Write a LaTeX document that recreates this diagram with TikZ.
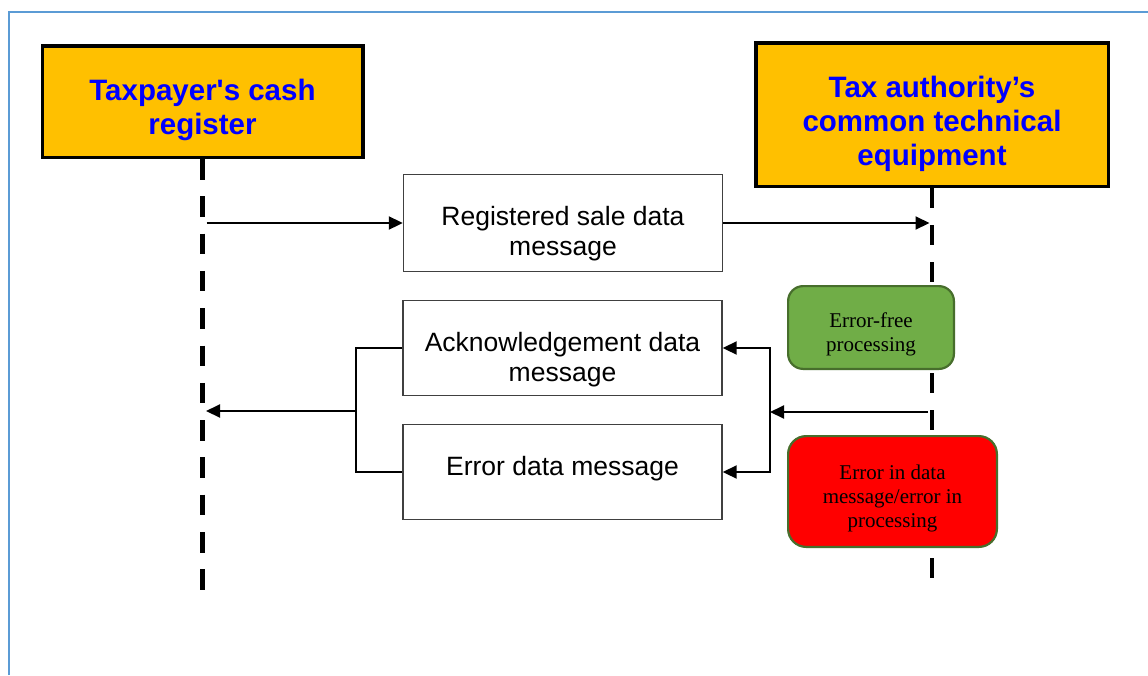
\documentclass[tikz,border=0pt]{standalone}
\usepackage{fontspec}
\setmainfont{Liberation Sans}
\newfontfamily\statefont{Liberation Serif}
\usetikzlibrary{arrows.meta}
\definecolor{orangebox}{HTML}{FFC000}
\definecolor{titleblue}{HTML}{0000FF}
\definecolor{framebl}{HTML}{5B9BD5}
\definecolor{okgreen}{HTML}{70AD47}
\definecolor{errred}{HTML}{FF0000}
\definecolor{darkgreen}{HTML}{476E2C}
\definecolor{boxgray}{HTML}{404040}
\begin{document}
\begin{tikzpicture}[x=1pt,y=-1pt,
  titlebox/.style={draw=black, line width=3.5pt, fill=orangebox, text=titleblue,
    font=\fontsize{29.5}{34}\selectfont\bfseries, inner sep=0pt},
  msgbox/.style={draw=boxgray, line width=1.4pt, fill=white, inner sep=0pt,
    font=\fontsize{26.5}{30}\selectfont},
  statebox/.style={draw=darkgreen, line width=2.2pt, rounded corners=15pt,
    font=\statefont\fontsize{21}{24}\selectfont, inner sep=0pt},
  lifeline/.style={line width=4.5pt},
  conn/.style={line width=2pt, -{Triangle[length=14pt,width=13pt]}},
  plainline/.style={line width=2pt},
  tip/.tip={Triangle[length=14pt,width=13pt]}]
\useasboundingbox (0,0) rectangle (1148,675);
\fill[white] (0,0) rectangle (1148,675);
% frame
\draw[framebl, line width=2pt] (9,675) -- (9,12) -- (1148,12);

% actors
\node[titlebox] (tp) at (202.5,101.5)
  {\parbox[c][111.5pt][t]{320.5pt}{\centering\vspace*{33.6pt}Taxpayer\textquotesingle s cash\\register}};
\node[titlebox] (ta) at (932,114.5)
  {\parbox[c][143.5pt][t]{352.5pt}{\centering\vspace*{33.6pt}Tax authority’s\\common technical\\equipment}};

% lifelines
\coordinate (lend) at (202.5,590);
\coordinate (rend) at (932,578);
\draw[lifeline, dash pattern=on 20.5pt off 16.8pt] (tp.south) -- (lend);
\draw[lifeline, dash pattern=on 20pt off 17pt] (ta.south) -- (rend);

% state boxes
\node[statebox, fill=okgreen] (ok) at (871,327.5)
  {\parbox[c][82.8pt][c]{165.8pt}{\centering\vspace*{14pt}Error-free\\processing}};
\node[statebox, fill=errred, rounded corners=18pt] (err) at (892.5,491.5)
  {\parbox[c][110.8pt][c]{208.8pt}{\centering\vspace*{14pt}Error in data\\message/error in\\processing}};

% messages
\node[msgbox] (m1) at (563,223)
  {\parbox[c][97pt][t]{319pt}{\centering\vspace*{32pt}Registered sale data\\message}};
\node[msgbox] (m2) at (562.5,348)
  {\parbox[c][95pt][t]{319pt}{\centering\vspace*{32pt}Acknowledgement data\\message}};
\node[msgbox] (m3) at (562.5,472)
  {\parbox[c][95pt][t]{319pt}{\centering\vspace*{32pt}Error data message}};

% connectors
\coordinate (a1s) at (206.5,223);
\coordinate (a2e) at (929.5,223);
\draw[conn] (a1s) -- (m1.west);
\draw[conn] (m1.east) -- (a2e);

\coordinate (rb1) at (770,348);
\coordinate (rb2) at (770,472);
\coordinate (rbm) at (770,412);
\coordinate (a3s) at (928,412);
\draw[plainline, tip-tip] (m2.east) -- (rb1) -- (rb2) -- (m3.east);
\draw[conn] (a3s) -- (rbm);

\coordinate (lb1) at (356,348);
\coordinate (lb2) at (356,472);
\coordinate (lbm) at (356,411);
\coordinate (a4e) at (206,411);
\draw[plainline] (m2.west) -- (lb1) -- (lb2) -- (m3.west);
\draw[conn] (lbm) -- (a4e);
\end{tikzpicture}
\end{document}
